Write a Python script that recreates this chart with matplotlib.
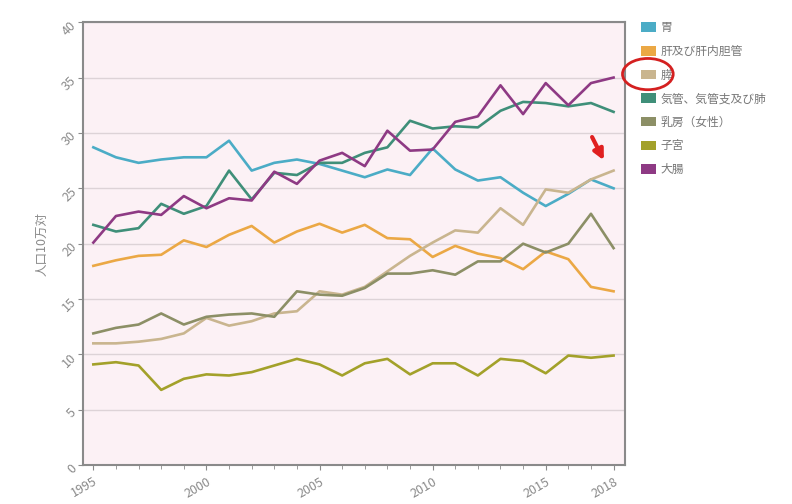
import matplotlib
matplotlib.use("Agg")
import matplotlib.pyplot as plt
from matplotlib.patches import Ellipse, FancyArrowPatch, Patch
from matplotlib.ticker import MultipleLocator

plt.rcParams['font.family'] = ['Noto Sans CJK JP', 'DejaVu Sans']

years = list(range(1995, 2019))

stomach = [28.7, 27.8, 27.3, 27.6, 27.8, 27.8, 29.3, 26.6, 27.3, 27.6, 27.2, 26.6,
           26.0, 26.7, 26.2, 28.6, 26.7, 25.7, 26.0, 24.6, 23.4, 24.5, 25.8, 25.0]
liver = [18.0, 18.5, 18.9, 19.0, 20.3, 19.7, 20.8, 21.6, 20.1, 21.1, 21.8, 21.0,
         21.7, 20.5, 20.4, 18.8, 19.8, 19.1, 18.7, 17.7, 19.3, 18.6, 16.1, 15.7]
pancreas = [11.0, 11.0, 11.15, 11.4, 11.9, 13.3, 12.6, 13.0, 13.7, 13.9, 15.7, 15.4,
            16.1, 17.5, 18.9, 20.1, 21.2, 21.0, 23.2, 21.7, 24.9, 24.6, 25.8, 26.6]
lung = [21.7, 21.1, 21.4, 23.6, 22.7, 23.4, 26.6, 24.0, 26.4, 26.2, 27.3, 27.3,
        28.2, 28.7, 31.1, 30.4, 30.6, 30.5, 32.0, 32.8, 32.7, 32.4, 32.7, 31.9]
breast = [11.9, 12.4, 12.7, 13.7, 12.7, 13.4, 13.6, 13.7, 13.4, 15.7, 15.4, 15.3,
          16.0, 17.3, 17.3, 17.6, 17.2, 18.4, 18.4, 20.0, 19.2, 20.0, 22.7, 19.6]
uterus = [9.1, 9.3, 9.0, 6.8, 7.8, 8.2, 8.1, 8.4, 9.0, 9.6, 9.1, 8.1,
          9.2, 9.6, 8.2, 9.2, 9.2, 8.1, 9.6, 9.4, 8.3, 9.9, 9.7, 9.9]
colon = [20.1, 22.5, 22.9, 22.6, 24.3, 23.2, 24.1, 23.9, 26.5, 25.4, 27.5, 28.2,
         27.0, 30.2, 28.4, 28.5, 31.0, 31.5, 34.3, 31.7, 34.5, 32.5, 34.5, 35.0]

labels = ['胃', '肝及び肝内胆管', '膵', '気管、気管支及び肺', '乳房（女性）', '子宮', '大腸']
series = [stomach, liver, pancreas, lung, breast, uterus, colon]
colors = ['#4BACC6', '#EBA845', '#C9B58F', '#3F8F79', '#8C8F66', '#A3A12A', '#8E3A84']

fig = plt.figure(figsize=(7.92, 5.04), dpi=100)
ax = fig.add_axes([0.105, 0.077, 0.684, 0.879])
ax.set_facecolor('#FCF1F5')

for vals, c, lab in zip(series, colors, labels):
    ax.plot(years, vals, color=c, lw=1.9, label=lab)

ax.set_xlim(1994.55, 2018.5)
ax.set_ylim(0, 40)
ax.yaxis.set_major_locator(MultipleLocator(5))
ax.set_xticks([1995, 2000, 2005, 2010, 2015, 2018])
ax.xaxis.set_minor_locator(MultipleLocator(1))
ax.grid(axis='y', color='#DDD3D7', lw=1.0)
ax.set_axisbelow(True)
for s in ax.spines.values():
    s.set_color('#8A8A8A')
    s.set_linewidth(1.5)
ax.tick_params(axis='both', colors='#8A8A8A', labelcolor='#8A8A8A', labelsize=9)
ax.tick_params(axis='x', which='minor', length=3, color='#8A8A8A')
plt.setp(ax.get_xticklabels(), rotation=30, ha='right', rotation_mode='anchor')
plt.setp(ax.get_yticklabels(), rotation=45, ha='right', rotation_mode='anchor')
ax.set_ylabel('人口10万対', color='#8A8A8A', fontsize=9, labelpad=8)

handles = [Patch(facecolor=c, edgecolor='none') for c in colors]
leg = ax.legend(handles, labels, loc='upper left', bbox_to_anchor=(1.01, 1.026),
                frameon=False, fontsize=8.5, handlelength=1.25, handleheight=0.85,
                handletextpad=0.4, labelspacing=0.9, labelcolor='#777777')

fig.add_artist(Ellipse((0.818, 0.853), 0.064, 0.062, transform=fig.transFigure,
                       fill=False, edgecolor='#D42020', lw=2.0))
fig.add_artist(FancyArrowPatch((0.746, 0.733), (0.764, 0.677),
                               transform=fig.transFigure, arrowstyle='-|>',
                               mutation_scale=15, color='#E02020', lw=3))

fig.savefig('out.png', dpi=100)
